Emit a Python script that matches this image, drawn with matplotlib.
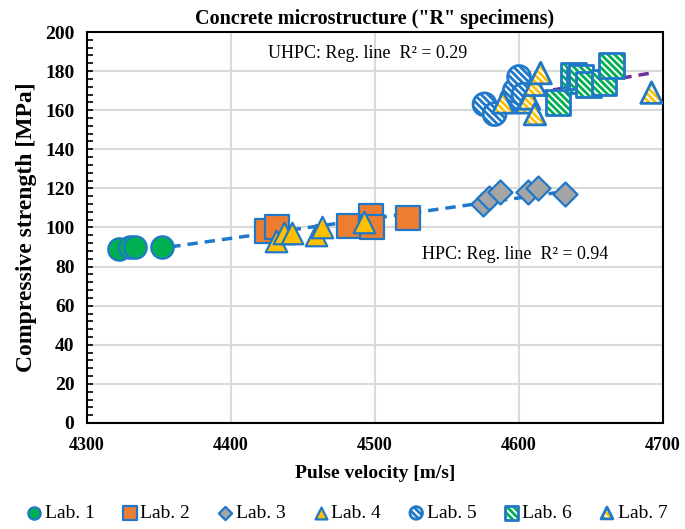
import numpy as np
import matplotlib
matplotlib.use('Agg')
import matplotlib.pyplot as plt

plt.rcParams['font.family'] = ['Liberation Serif', 'DejaVu Serif']
plt.rcParams['hatch.linewidth'] = 2.0

# data: (pulse velocity m/s, strength MPa)
lab1_x = [4322, 4330, 4333, 4352]
lab1_y = [89, 90, 90, 90]
lab2_x = [4425, 4432, 4482, 4497, 4498, 4523]
lab2_y = [98, 100, 101, 106, 100, 105]
lab3_x = [4575, 4579, 4587, 4606, 4613, 4632]
lab3_y = [112, 115, 118, 118, 120, 117]
lab4_x = [4431, 4437, 4442, 4459, 4463, 4492]
lab4_y = [93, 97, 97, 96, 100, 103]
lab5_x = [4576, 4583, 4595, 4597, 4600, 4603]
lab5_y = [163, 158, 166, 170, 177, 168]
lab6_x = [4627, 4638, 4642, 4643, 4648, 4659, 4664]
lab6_y = [164, 178, 175, 177, 173, 174, 183]
lab7_x = [4589, 4605, 4607, 4611, 4611, 4615, 4692]
lab7_y = [164, 164, 166, 173, 158, 179, 169]

labels = ['Lab. 1', 'Lab. 2', 'Lab. 3', 'Lab. 4', 'Lab. 5', 'Lab. 6', 'Lab. 7']

blue = '#1F78C8'
fig = plt.figure(figsize=(6.85, 5.29), dpi=100)
ax = fig.add_axes([0.127, 0.2004, 0.841, 0.7391])

# regression lines
hx = np.array(lab1_x + lab2_x + lab3_x + lab4_x)
hy = np.array(lab1_y + lab2_y + lab3_y + lab4_y)
k, b = np.polyfit(hx, hy, 1)
xs = np.array([hx.min(), hx.max()])
ax.plot(xs, k * xs + b, ls=(0, (3, 2)), color=blue, lw=2.5, zorder=2)

ux = np.array(lab5_x + lab6_x + lab7_x)
uy = np.array(lab5_y + lab6_y + lab7_y)
k2, b2 = np.polyfit(ux, uy, 1)
xs2 = np.array([ux.min(), ux.max()])
ax.plot(xs2, k2 * xs2 + b2, ls=(0, (3, 2)), color='#7030A0', lw=2.5, zorder=2)

handles = []

# solid-filled labs
def solid(x, y, marker, s, col, z):
    sc = ax.scatter(x, y, s=s, marker=marker, c=col, edgecolors=blue, linewidths=1.6, zorder=z)
    handles.append(sc)

solid(lab1_x, lab1_y, 'o', 260, '#00B050', 3)
solid(lab2_x, lab2_y, 's', 300, '#ED7D31', 3)
solid(lab3_x, lab3_y, 'D', 150, '#A5A5A5', 3)
solid(lab4_x, lab4_y, '^', 240, '#FFC000', 4)

# hatched labs: each point gets a hatch layer and an outline layer
def hatched(x, y, marker, s, hcol, z):
    first = None
    for i, (xi, yi) in enumerate(zip(x, y)):
        zz = z + i * 0.01
        h1 = ax.scatter([xi], [yi], s=s, marker=marker, facecolors='white', edgecolors=hcol,
                        hatch='\\' * 5, linewidths=0, zorder=zz)
        h2 = ax.scatter([xi], [yi], s=s, marker=marker, facecolors='none', edgecolors=blue,
                        linewidths=2.0, zorder=zz + 0.005)
        if first is None:
            first = (h1, h2)
    handles.append(first)

hatched(lab5_x, lab5_y, 'o', 270, blue, 3)
hatched(lab6_x, lab6_y, 's', 320, '#00B050', 3)
hatched(lab7_x, lab7_y, '^', 240, '#FFC000', 4)

ax.set_xlim(4300, 4700)
ax.set_ylim(0, 200)
ax.set_xticks(np.arange(4300, 4701, 100))
ax.set_yticks(np.arange(0, 201, 20))
ax.set_yticks(np.arange(0, 201, 4), minor=True)
ax.tick_params(axis='y', which='both', direction='in', length=4, width=1.2, labelsize=14, pad=9)
ax.tick_params(axis='x', length=0, labelsize=13, pad=10)
for t in ax.get_xticklabels() + ax.get_yticklabels():
    t.set_fontweight('bold')
ax.grid(True, which='major', color='#D9D9D9', lw=1.5)
ax.set_axisbelow(True)
for sp in ax.spines.values():
    sp.set_linewidth(1.5)

ax.set_xlabel('Pulse velocity [m/s]', fontsize=14, fontweight='bold', labelpad=8)
ax.set_ylabel('Compressive strength [MPa]', fontsize=17, fontweight='bold', labelpad=6)
ax.set_title('Concrete microstructure ("R" specimens)', fontsize=14.5, fontweight='bold', pad=6)

ax.text(4495, 189, 'UHPC: Reg. line  R\u00b2 = 0.29', fontsize=13, ha='center', va='center')
ax.text(4597, 86, 'HPC: Reg. line  R\u00b2 = 0.94', fontsize=13, ha='center', va='center')

fig.legend(handles, labels, loc='lower center', bbox_to_anchor=(0.505, -0.02), ncol=7,
           frameon=False, fontsize=14, handletextpad=0.05, columnspacing=1.3,
           handlelength=1.0, markerscale=0.55, scatterpoints=1)

fig.savefig('out.png', dpi=100)
